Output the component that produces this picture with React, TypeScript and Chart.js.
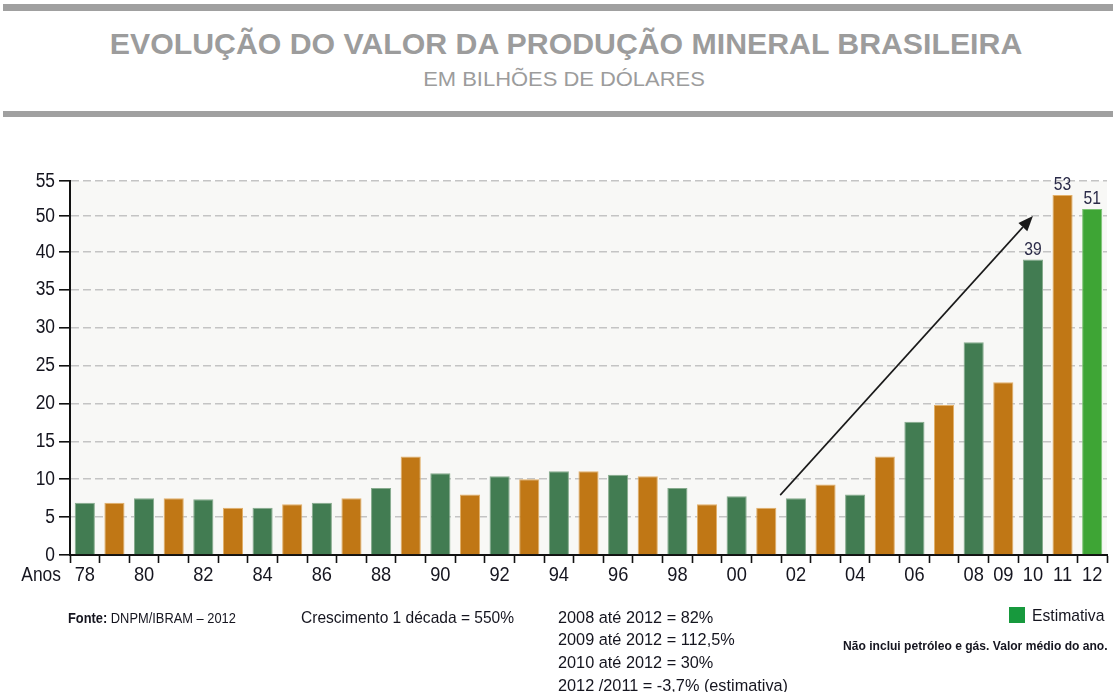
import React, { useEffect, useLayoutEffect, useRef } from "react";
import { Chart, registerables, LinearScale } from "chart.js";

Chart.register(...registerables);

// ---------- data ----------
const YEARS = ["78","79","80","81","82","83","84","85","86","87","88","89","90","91","92","93","94","95","96","97","98","99","00","01","02","03","04","05","06","07","08","09","10","11","12"];
const VALUES = [6.9,6.9,7.5,7.5,7.35,6.25,6.25,6.7,6.9,7.5,8.85,13.0,10.8,8.0,10.4,10.0,11.05,11.05,10.6,10.4,8.85,6.7,7.75,6.25,7.5,9.3,8.0,13.0,17.6,19.8,28.1,22.8,39,53,51];
const SHOWN_YEAR_LABELS = ["78","80","82","84","86","88","90","92","94","96","98","00","02","04","06","08","09","10","11","12"];
const VALUE_LABEL_YEARS = ["10","11","12"];
const ESTIMATE_YEARS = ["12"];
const Y_TICK_VALUES = [0,5,10,15,20,25,30,35,40,50,55];
// the original axis skips 45: 40 -> 50 -> 55 take the same spacing as one step
const AXIS_BREAK_VALUES = [0, 40, 50, 55];
const AXIS_BREAK_FRACTIONS = [0, 303 / 374, 339 / 374, 1];
const TREND_FROM = { year: "01", offset: 0.47, value: 7.9 };
const TREND_TO = { year: "10", offset: 0, value: 50 };

const TITLE = "EVOLUÇÃO DO VALOR DA PRODUÇÃO MINERAL BRASILEIRA";
const SUBTITLE = "EM BILHÕES DE DÓLARES";
const FOOT_GROWTH = ["2008 até 2012 = 82%", "2009 até 2012 = 112,5%", "2010 até 2012 = 30%", "2012 /2011 = -3,7% (estimativa)"];

// ---------- style ----------
const SANS = "'Liberation Sans', Arial, Helvetica, sans-serif";
const CONDENSE = 0.87;
const GREEN = "#427c52";
const ORANGE = "#c07715";
const ESTIMATE = "#3ea535";
const LEGEND_GREEN = "#17993d";
const PLOT_BG = "#f8f8f6";
const GRID = "#c4c4c4";
const INK = "#15151f";
const LABEL_INK = "#2b2b48";
const HEADER_GRAY = "#9c9c9c";

function interp(x: number, xs: number[], ys: number[]) {
  let i = 1;
  while (i < xs.length - 1 && x > xs[i]) i++;
  const x0 = xs[i - 1], x1 = xs[i], y0 = ys[i - 1], y1 = ys[i];
  return y0 + ((x - x0) * (y1 - y0)) / (x1 - x0);
}

class BrokenLinearScale extends LinearScale {
  static id = "brokenLinear";
  getPixelForValue(value: number) {
    return this.getPixelForDecimal(interp(value, AXIS_BREAK_VALUES, AXIS_BREAK_FRACTIONS));
  }
  getValueForPixel(pixel: number) {
    return interp(this.getDecimalForPixel(pixel), AXIS_BREAK_FRACTIONS, AXIS_BREAK_VALUES);
  }
}
Chart.register(BrokenLinearScale as any);

const decorPlugin = {
  id: "decor",
  beforeDraw(chart: any) {
    const { ctx, chartArea: a } = chart;
    // condensed lettering for every label the chart draws
    const orig = CanvasRenderingContext2D.prototype.fillText;
    ctx.fillText = function (text: string, x: number, y: number, maxWidth?: number) {
      const w = this.measureText(text).width * CONDENSE;
      return orig.call(this, text, x, y, maxWidth !== undefined ? Math.min(maxWidth, w) : w);
    };
    ctx.save();
    ctx.fillStyle = PLOT_BG;
    ctx.fillRect(a.left, a.top, a.right - a.left, a.bottom - a.top);
    ctx.restore();
  },
  afterDatasetsDraw(chart: any) {
    const ctx = chart.ctx;
    const xs = chart.scales.x;
    const ys = chart.scales.y;
    const meta = chart.getDatasetMeta(0);
    ctx.save();
    // value labels
    ctx.font = `18px ${SANS}`;
    ctx.fillStyle = LABEL_INK;
    ctx.textAlign = "center";
    ctx.textBaseline = "bottom";
    VALUE_LABEL_YEARS.forEach((yr) => {
      const i = YEARS.indexOf(yr);
      const el = meta.data[i];
      ctx.fillText(String(Math.round(VALUES[i])), el.x, el.y - 1);
    });
    // trend arrow
    const x1 = xs.getPixelForValue(YEARS.indexOf(TREND_FROM.year) + TREND_FROM.offset);
    const y1 = ys.getPixelForValue(TREND_FROM.value);
    const x2 = xs.getPixelForValue(YEARS.indexOf(TREND_TO.year) + TREND_TO.offset);
    const y2 = ys.getPixelForValue(TREND_TO.value);
    const ang = Math.atan2(y2 - y1, x2 - x1);
    const headLen = 15, headW = 6;
    const bx = x2 - headLen * Math.cos(ang), by = y2 - headLen * Math.sin(ang);
    ctx.strokeStyle = "#1a1a1a";
    ctx.fillStyle = "#1a1a1a";
    ctx.lineWidth = 1.6;
    ctx.beginPath();
    ctx.moveTo(x1, y1);
    ctx.lineTo(bx, by);
    ctx.stroke();
    ctx.beginPath();
    ctx.moveTo(x2, y2);
    ctx.lineTo(bx + headW * Math.sin(ang), by - headW * Math.cos(ang));
    ctx.lineTo(bx - headW * Math.sin(ang), by + headW * Math.cos(ang));
    ctx.closePath();
    ctx.fill();
    // "Anos"
    ctx.font = `20px ${SANS}`;
    ctx.fillStyle = INK;
    ctx.textAlign = "right";
    ctx.textBaseline = "middle";
    ctx.fillText("Anos", xs.left - 9, xs.top + 8 + 12.6);
    ctx.restore();
  },
  afterDraw(chart: any) {
    delete chart.ctx.fillText;
  },
};

// top offset so that the capital letters are centred on `center` (line-height 1)
const capTop = (center: number, size: number) => center - 0.4885 * size;

type FitProps = { width: number; align: "left" | "right" | "center"; style: React.CSSProperties; children: React.ReactNode };
function Fit({ width, align, style, children }: FitProps) {
  const r = useRef<HTMLDivElement>(null);
  useLayoutEffect(() => {
    const el = r.current;
    if (!el) return;
    const apply = () => {
      el.style.transform = align === "center" ? "translateX(-50%)" : "none";
      const w = el.offsetWidth;
      if (w > 0) {
        const k = width / w;
        el.style.transform = align === "center" ? `translateX(-50%) scaleX(${k})` : `scaleX(${k})`;
      }
    };
    apply();
    if ((document as any).fonts && (document as any).fonts.ready) (document as any).fonts.ready.then(apply);
  }, [width, align]);
  const origin = align === "right" ? "right top" : align === "center" ? "center top" : "left top";
  return (
    <div ref={r} style={{ position: "absolute", whiteSpace: "nowrap", margin: 0, lineHeight: 1, transformOrigin: origin, fontFamily: SANS, ...style }}>
      {children}
    </div>
  );
}

export default function App() {
  const ref = useRef<HTMLCanvasElement>(null);
  useEffect(() => {
    if (!ref.current) return;
    const colors = YEARS.map((y, i) => (ESTIMATE_YEARS.includes(y) ? ESTIMATE : i % 2 === 0 ? GREEN : ORANGE));
    const borders = YEARS.map((y, i) => (ESTIMATE_YEARS.includes(y) ? "#7cc474" : i % 2 === 0 ? "#86ab8d" : "#e2b06a"));
    const chart = new Chart(ref.current, {
      type: "bar",
      data: {
        labels: YEARS,
        datasets: [
          {
            data: VALUES,
            backgroundColor: colors,
            borderColor: borders,
            borderWidth: 1,
            barPercentage: 0.68,
            categoryPercentage: 1,
          },
        ],
      },
      options: {
        animation: false,
        responsive: false,
        devicePixelRatio: 1,
        layout: { padding: { top: 181, left: 0, right: 6, bottom: 97 }, autoPadding: false },
        plugins: { legend: { display: false }, tooltip: { enabled: false }, title: { display: false } },
        scales: {
          x: {
            type: "category",
            offset: true,
            afterFit: (s: any) => { s.height = 40; },
            grid: {
              offset: true,
              drawOnChartArea: false,
              drawTicks: true,
              tickLength: 8,
              tickColor: "#111",
              tickWidth: 1.6,
            },
            border: { color: "#111", width: 2 },
            ticks: {
              autoSkip: false,
              maxRotation: 0,
              minRotation: 0,
              padding: 0,
              color: INK,
              font: { family: SANS, size: 21 },
              callback: (_v: any, i: number) => (SHOWN_YEAR_LABELS.includes(YEARS[i]) ? YEARS[i] : ""),
            },
          },
          y: {
            type: "brokenLinear" as any,
            min: 0,
            max: 55,
            afterFit: (s: any) => { s.width = 70; },
            afterBuildTicks: (s: any) => { s.ticks = Y_TICK_VALUES.map((v) => ({ value: v })); },
            grid: {
              color: (c: any) => (c.tick && c.tick.value === 0 ? "rgba(0,0,0,0)" : GRID),
              lineWidth: 1.6,
              drawTicks: true,
              tickLength: 11,
              tickColor: "#111",
              tickWidth: 1.6,
            },
            border: { color: "#111", width: 2, dash: [8, 4] },
            ticks: {
              padding: 4,
              color: INK,
              font: { family: SANS, size: 20 },
              callback: (v: any) => String(v),
            },
          },
        },
      },
      plugins: [decorPlugin],
    } as any);
    return () => chart.destroy();
  }, []);

  return (
    <div style={{ position: "absolute", left: 0, top: 0, width: 1113, height: 692, background: "#fff", overflow: "hidden" }}>
      <div style={{ position: "absolute", left: 3, right: 0, top: 4, height: 7, background: "#a0a0a0" }} />
      <Fit width={912} align="center" style={{ left: 566, top: capTop(43.5, 30), fontSize: 30, fontWeight: 700, color: HEADER_GRAY }}>
        {TITLE}
      </Fit>
      <Fit width={282} align="center" style={{ left: 564, top: capTop(78, 21), fontSize: 21, color: HEADER_GRAY }}>
        {SUBTITLE}
      </Fit>
      <div style={{ position: "absolute", left: 3, right: 0, top: 111, height: 6, background: "#a0a0a0" }} />
      <canvas ref={ref} width={1113} height={692} style={{ position: "absolute", left: 0, top: 0, width: 1113, height: 692 }} />
      <Fit width={168} align="left" style={{ left: 68, top: capTop(618, 14), fontSize: 14, color: INK }}>
        <b>Fonte:</b> DNPM/IBRAM – 2012
      </Fit>
      <Fit width={213} align="left" style={{ left: 301, top: capTop(617, 16.5), fontSize: 16.5, color: INK }}>
        Crescimento 1 década = 550%
      </Fit>
      {FOOT_GROWTH.map((t, i) => (
        <div key={t} style={{ position: "absolute", whiteSpace: "nowrap", lineHeight: 1, fontFamily: SANS, left: 558, top: capTop(616.7 + i * 22.75, 16.3), fontSize: 16.3, color: INK }}>
          {t}
        </div>
      ))}
      <div style={{ position: "absolute", left: 1009, top: 607, width: 16, height: 16, background: LEGEND_GREEN }} />
      <Fit width={72} align="right" style={{ right: 9, top: capTop(615.5, 17), fontSize: 17, color: INK }}>
        Estimativa
      </Fit>
      <Fit width={265} align="right" style={{ right: 5, top: capTop(645, 13), fontSize: 13, fontWeight: 700, color: INK }}>
        Não inclui petróleo e gás. Valor médio do ano.
      </Fit>
    </div>
  );
}
